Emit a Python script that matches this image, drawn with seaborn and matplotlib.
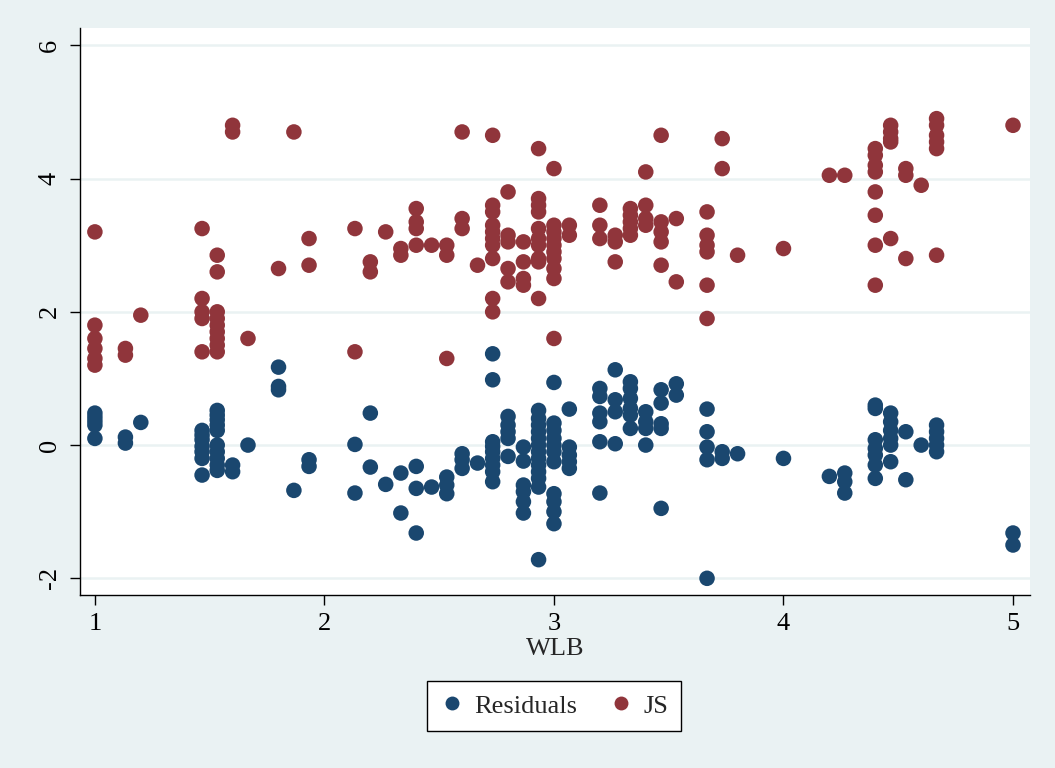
import numpy as np
import pandas as pd
import matplotlib
matplotlib.use('Agg')
import matplotlib.pyplot as plt
from matplotlib.lines import Line2D
import seaborn as sns

# WLB levels (steps of 1/15) and the values stacked at each level
js_levels = [1.0, 1.133, 1.2, 1.467, 1.533, 1.6, 1.667, 1.8, 1.867, 1.933,
             2.133, 2.2, 2.267, 2.333, 2.4, 2.467, 2.533, 2.6, 2.667, 2.733,
             2.8, 2.867, 2.933, 3.0, 3.067, 3.2, 3.267, 3.333, 3.4, 3.467,
             3.533, 3.667, 3.733, 3.8, 4.0, 4.2, 4.267, 4.4, 4.467, 4.533,
             4.6, 4.667, 5.0]
js_values = [
    [3.20, 1.80, 1.60, 1.45, 1.30, 1.20],
    [1.45, 1.35],
    [1.95],
    [3.25, 2.20, 2.00, 1.90, 1.40],
    [2.85, 2.60, 2.00, 1.90, 1.80, 1.70, 1.60, 1.50, 1.40],
    [4.80, 4.70],
    [1.60],
    [2.65],
    [4.70],
    [3.10, 2.70],
    [3.25, 1.40],
    [2.75, 2.60],
    [3.20],
    [2.95, 2.85],
    [3.55, 3.35, 3.25, 3.00],
    [3.00],
    [3.00, 2.85, 1.30],
    [4.70, 3.40, 3.25],
    [2.70],
    [4.65, 3.60, 3.50, 3.30, 3.20, 3.10, 3.00, 2.80, 2.20, 2.00],
    [3.80, 3.15, 3.05, 2.65, 2.45],
    [3.05, 2.75, 2.50, 2.40],
    [4.45, 3.70, 3.60, 3.50, 3.25, 3.10, 3.00, 2.80, 2.75, 2.20],
    [4.15, 3.30, 3.20, 3.10, 3.00, 2.90, 2.80, 2.65, 2.50, 1.60],
    [3.30, 3.15],
    [3.60, 3.30, 3.10],
    [3.15, 3.05, 2.75],
    [3.55, 3.45, 3.35, 3.25, 3.15],
    [4.10, 3.60, 3.40, 3.30],
    [4.65, 3.35, 3.20, 3.05, 2.70],
    [3.40, 2.45],
    [3.50, 3.15, 3.00, 2.90, 2.40, 1.90],
    [4.60, 4.15],
    [2.85],
    [2.95],
    [4.05],
    [4.05],
    [4.45, 4.35, 4.20, 4.10, 3.80, 3.45, 3.00, 2.40],
    [4.80, 4.70, 4.60, 4.55, 3.10],
    [4.15, 4.05, 2.80],
    [3.90],
    [4.90, 4.80, 4.65, 4.55, 4.45, 2.85],
    [4.80],
]

res_levels = [1.0, 1.133, 1.2, 1.467, 1.533, 1.6, 1.667, 1.8, 1.867, 1.933,
              2.133, 2.2, 2.267, 2.333, 2.4, 2.467, 2.533, 2.6, 2.667, 2.733,
              2.8, 2.867, 2.933, 3.0, 3.067, 3.2, 3.267, 3.333, 3.4, 3.467,
              3.533, 3.667, 3.733, 3.8, 4.0, 4.2, 4.267, 4.4, 4.467, 4.533,
              4.6, 4.667, 5.0]
res_values = [
    [0.48, 0.42, 0.36, 0.30, 0.10],
    [0.12, 0.03],
    [0.34],
    [0.22, 0.15, 0.08, -0.02, -0.10, -0.20, -0.45],
    [0.52, 0.45, 0.38, 0.30, 0.22, 0.00, -0.10, -0.20, -0.30, -0.38],
    [-0.30, -0.40],
    [0.00],
    [1.17, 0.88, 0.83],
    [-0.68],
    [-0.22, -0.32],
    [0.01, -0.72],
    [0.48, -0.33],
    [-0.59],
    [-0.42, -1.02],
    [-0.32, -0.65, -1.32],
    [-0.63],
    [-0.48, -0.60, -0.73],
    [-0.13, -0.22, -0.35],
    [-0.27],
    [1.37, 0.98, 0.05, -0.02, -0.10, -0.20, -0.30, -0.40, -0.55],
    [0.43, 0.30, 0.20, 0.10, -0.17],
    [-0.03, -0.24, -0.60, -0.70, -0.85, -1.02],
    [0.52, 0.40, 0.30, 0.20, 0.10, 0.00, -0.10, -0.20, -0.30, -0.40, -0.50, -0.63, -1.72],
    [0.94, 0.33, 0.22, 0.10, 0.00, -0.10, -0.25, -0.73, -0.85, -1.00, -1.18],
    [0.54, -0.03, -0.15, -0.25, -0.35],
    [0.85, 0.73, 0.48, 0.35, 0.05, -0.72],
    [1.13, 0.68, 0.50, 0.02],
    [0.95, 0.85, 0.70, 0.55, 0.45, 0.25],
    [0.50, 0.35, 0.25, 0.00],
    [0.83, 0.63, 0.32, 0.25, -0.95],
    [0.92, 0.75],
    [0.54, 0.20, -0.03, -0.22, -2.00],
    [-0.10, -0.20],
    [-0.13],
    [-0.20],
    [-0.47],
    [-0.42, -0.55, -0.72],
    [0.60, 0.55, 0.08, -0.05, -0.15, -0.30, -0.50],
    [0.48, 0.35, 0.22, 0.10, 0.00, -0.25],
    [0.20, -0.52],
    [0.00],
    [0.30, 0.20, 0.10, 0.00, -0.10],
    [-1.32, -1.50],
]

x_ticks = [1, 2, 3, 4, 5]
y_ticks = [-2, 0, 2, 4, 6]

colors = {'Residuals': '#1A476F', 'JS': '#90353B'}
bg = '#EAF2F3'

# long table: residuals first, then JS (drawn on top)
rows = []
for lvl, vals in zip(res_levels, res_values):
    for v in vals:
        rows.append({'WLB': lvl, 'value': v, 'series': 'Residuals'})
for lvl, vals in zip(js_levels, js_values):
    for v in vals:
        rows.append({'WLB': lvl, 'value': v, 'series': 'JS'})
df = pd.DataFrame(rows)

sns.set_style('ticks')
plt.rcParams['font.family'] = ['Liberation Serif', 'DejaVu Serif']
plt.rcParams['axes.unicode_minus'] = False

fig = plt.figure(figsize=(10.55, 7.68), dpi=100, facecolor=bg)
ax = fig.add_axes([0.0758, 0.2253, 0.9005, 0.7382])
ax.set_facecolor('white')

sns.scatterplot(data=df, x='WLB', y='value', hue='series', palette=colors,
                s=125, linewidth=0, alpha=1, legend=False, ax=ax, zorder=3)

ax.set_xlim(0.935, 5.074)
ax.set_ylim(-2.25, 6.26)
ax.set_xticks(x_ticks)
ax.set_yticks(y_ticks)
ax.grid(axis='y', color=bg, linewidth=1.8)
ax.grid(axis='x', visible=False)
ax.set_axisbelow(True)

for side in ['top', 'right']:
    ax.spines[side].set_visible(False)
for side in ['left', 'bottom']:
    ax.spines[side].set_color('black')
    ax.spines[side].set_linewidth(1.0)

ax.tick_params(axis='both', length=7, width=1.0, color='black', labelsize=19, labelcolor='black')
ax.tick_params(axis='y', pad=7)
ax.tick_params(axis='x', pad=6)
for lab in ax.get_yticklabels():
    lab.set_rotation(90)
    lab.set_va('center')

ax.set_xlabel('WLB', fontsize=19, labelpad=2)
ax.set_ylabel('')

handles = [Line2D([], [], linestyle='none', marker='o', markersize=10,
                  markerfacecolor=colors[k], markeredgewidth=0, label=k)
           for k in ['Residuals', 'JS']]
leg = fig.legend(handles=handles, loc='center', bbox_to_anchor=(0.525, 0.081),
                 ncol=2, fontsize=19, frameon=True, fancybox=False,
                 edgecolor='black', facecolor='white', framealpha=1,
                 handletextpad=0.4, columnspacing=1.2, borderpad=0.5,
                 handlelength=0.9, borderaxespad=0.3)
leg.get_frame().set_linewidth(1.0)

plt.savefig('out.png', dpi=100, facecolor=bg)
plt.close()
